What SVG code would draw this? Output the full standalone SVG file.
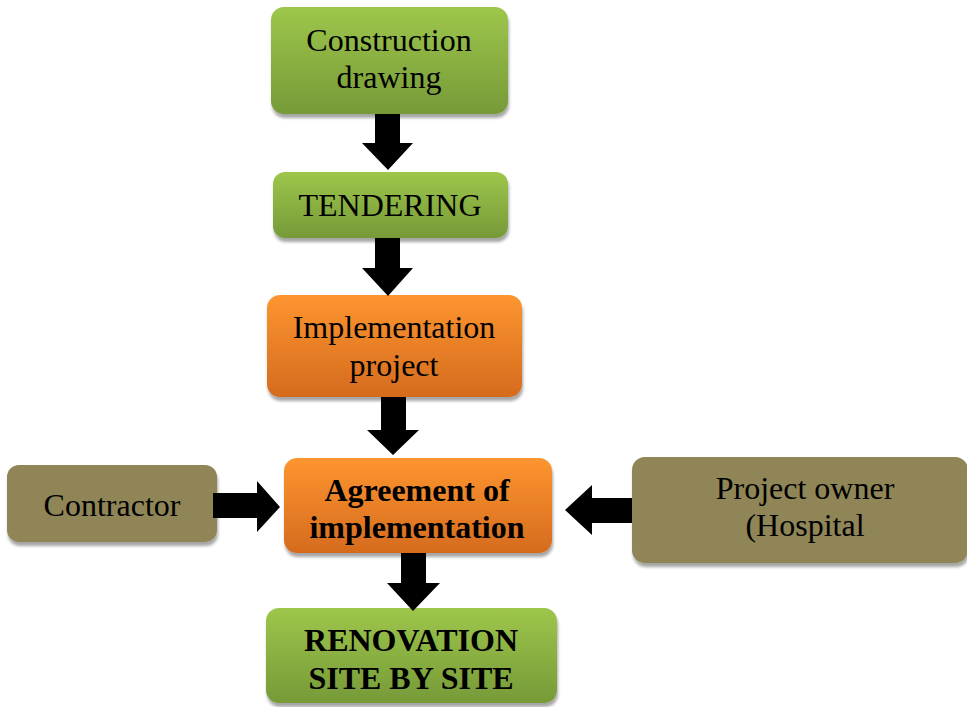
<svg xmlns="http://www.w3.org/2000/svg" width="967" height="707" viewBox="0 0 967 707">
<defs>
<linearGradient id="green" x1="0" y1="0" x2="0" y2="1">
<stop offset="0" stop-color="#9DC64B"/>
<stop offset="1" stop-color="#769A38"/>
</linearGradient>
<linearGradient id="orange" x1="0" y1="0" x2="0" y2="1">
<stop offset="0" stop-color="#FD9530"/>
<stop offset="1" stop-color="#D56B1E"/>
</linearGradient>
<filter id="sh" x="-10%" y="-10%" width="120%" height="130%">
<feDropShadow dx="1" dy="4" stdDeviation="1.5" flood-color="#000" flood-opacity="0.35"/>
</filter>
<style>
.g{fill:url(#green);filter:url(#sh)}
.o{fill:url(#orange);filter:url(#sh)}
.k{fill:#8F8557;filter:url(#sh)}
text{font-family:"Liberation Serif","Times New Roman",serif;font-size:32px;fill:#000;text-anchor:middle}
.b{font-weight:bold}
.ar{fill:#000}
</style>
</defs>
<g id="construction-drawing">
<rect class="g" x="271" y="7" width="237" height="107" rx="13"/>
<text x="389" y="51">Construction</text>
<text x="389" y="88">drawing</text>
</g>
<g id="tendering">
<rect class="g" x="273" y="172" width="235" height="66" rx="12"/>
<text x="390" y="216">TENDERING</text>
</g>
<g id="implementation-project">
<rect class="o" x="267" y="295" width="255" height="102" rx="13"/>
<text x="394" y="338">Implementation</text>
<text x="394" y="376">project</text>
</g>
<g id="agreement">
<rect class="o" x="284" y="458" width="268" height="95" rx="13"/>
<text class="b" x="417" y="501">Agreement of</text>
<text class="b" x="417" y="538">implementation</text>
</g>
<g id="contractor">
<rect class="k" x="7" y="465" width="210" height="77" rx="12"/>
<text x="112" y="516">Contractor</text>
</g>
<g id="project-owner">
<rect class="k" x="632" y="457" width="336" height="106" rx="13"/>
<text x="805" y="499">Project owner</text>
<text x="805" y="536">(Hospital</text>
</g>
<g id="renovation">
<rect class="g" x="266" y="608" width="291" height="95" rx="13"/>
<text class="b" x="411" y="651">RENOVATION</text>
<text class="b" x="411" y="689">SITE BY SITE</text>
</g>
<g id="connectors">
<polygon class="ar" points="375,114 400,114 400,143 413,143 388,170 362,143 375,143"/>
<polygon class="ar" points="375,238 400,238 400,268 413,268 388,296 362,268 375,268"/>
<polygon class="ar" points="381,397 406,397 406,430 419,430 393,455 367,430 381,430"/>
<polygon class="ar" points="401,553 426,553 426,583 440,583 413,611 387,583 401,583"/>
<polygon class="ar" points="213,493 257,493 257,481 280,507 257,532 257,518 213,518"/>
<polygon class="ar" points="632,498 592,498 592,485 565,510 592,535 592,523 632,523"/>
</g>
</svg>
